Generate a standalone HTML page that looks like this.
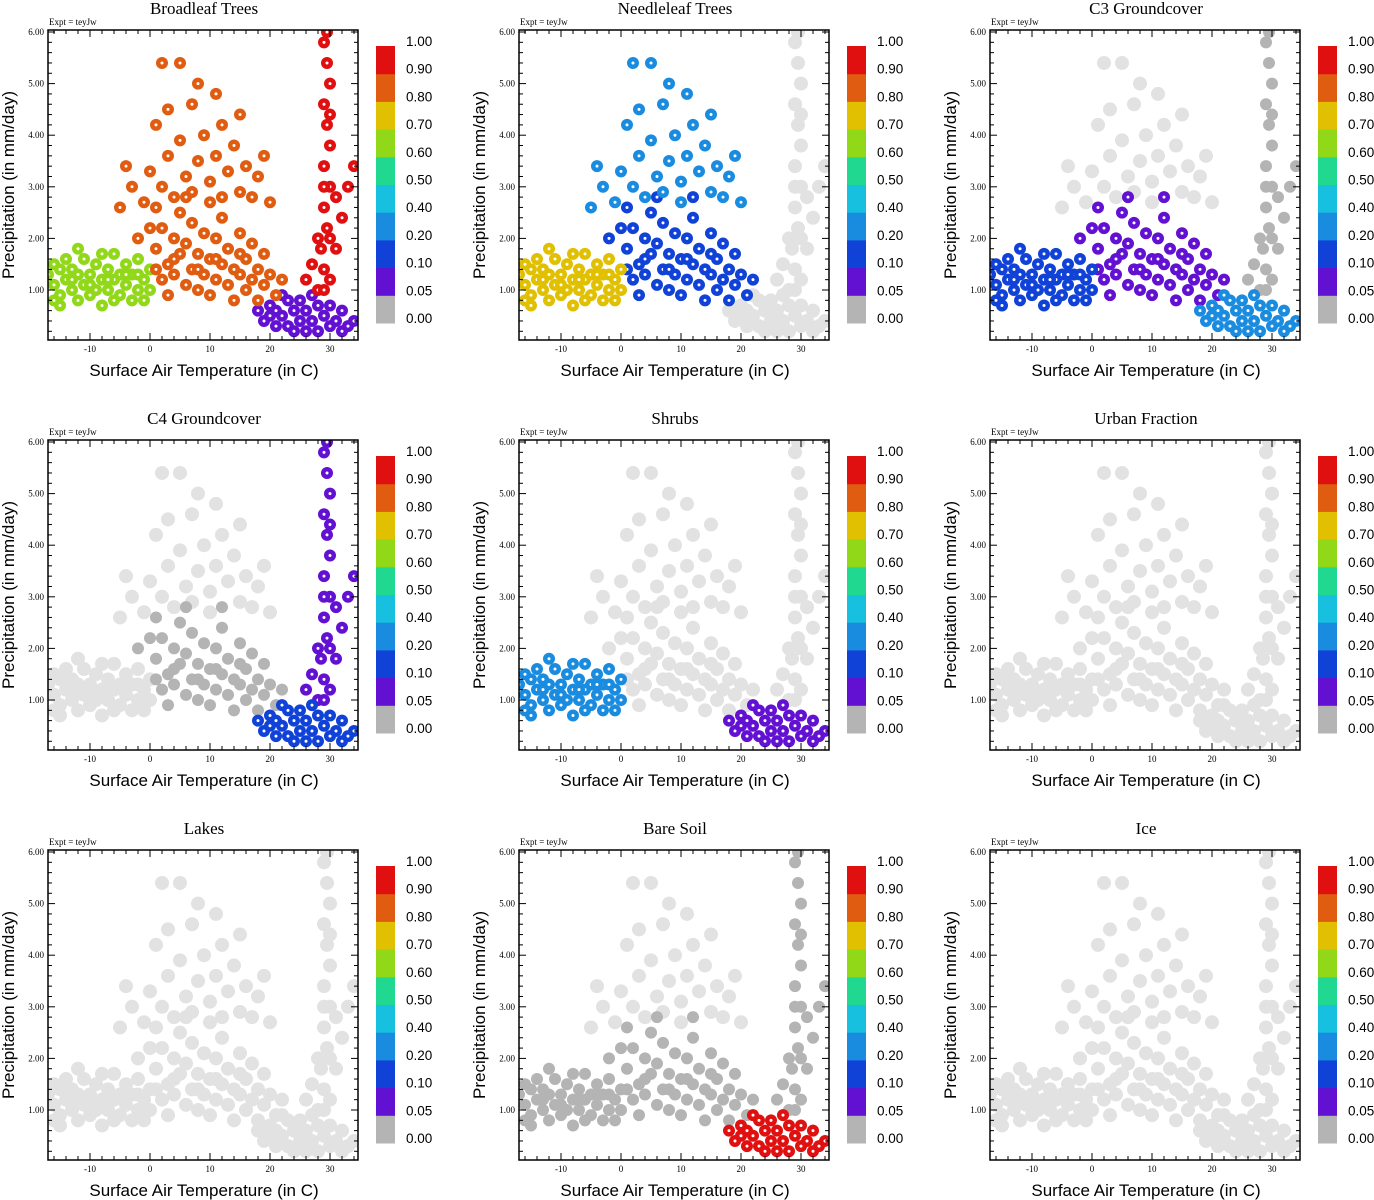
<!DOCTYPE html>
<html><head><meta charset="utf-8"><style>
body{margin:0;background:#fff;width:1374px;height:1200px;overflow:hidden}
svg{display:block}
</style></head><body>
<svg id="c" width="1374" height="1200" xmlns="http://www.w3.org/2000/svg"></svg>
<script>
const titles=["Broadleaf Trees","Needleleaf Trees","C3 Groundcover","C4 Groundcover","Shrubs","Urban Fraction","Lakes","Bare Soil","Ice"];
const xTicks=[-10,0,10,20,30];
const yTicks=[1,2,3,4,5,6];
const legendLabels=["0.00","0.05","0.10","0.20","0.40","0.50","0.60","0.70","0.80","0.90","1.00"];
const binEdges=[0,0.05,0.1,0.2,0.4,0.5,0.6,0.7,0.8,0.9,1.0];
const binColors=["#b4b4b4","#6210d2","#1042d8","#1a8ce0","#18c0e0","#20d890","#90d818","#e0c000","#e05c10","#e01010"];
// point clouds (T in C, P in mm/day)
const regionA=[[-17,1.3],[-16,1.5],[-16,1.1],[-15,1.4],[-15,0.9],[-14,1.2],[-14,1.6],[-13,1.0],[-13,1.4],[-12,0.8],[-12,1.3],[-11,1.1],[-11,1.6],[-10,0.9],[-10,1.3],[-9,1.5],[-9,1.0],[-8,1.2],[-8,0.7],[-7,1.4],[-7,1.0],[-6,1.2],[-6,1.7],[-5,0.9],[-5,1.3],[-4,1.1],[-4,1.5],[-3,0.8],[-3,1.3],[-2,1.0],[-2,1.6],[-1,1.2],[-1,0.8],[0,1.4],[0,1.0],[-15,0.7],[-12,1.8],[-8,1.7],[-16,0.8],[-6,0.8],[-13,1.2],[-10,1.1],[-7,1.2],[-4,1.3],[-2,1.3]];
const regionB=[[1,1.8],[2,1.2],[2,2.2],[3,1.5],[3,0.9],[4,2.0],[4,1.3],[5,1.7],[5,2.5],[6,1.1],[6,1.9],[7,1.4],[7,2.3],[8,1.0],[8,1.7],[9,2.1],[9,1.3],[10,1.6],[10,0.9],[11,2.0],[11,1.2],[12,1.5],[12,2.4],[13,1.1],[13,1.8],[14,1.4],[14,0.8],[15,2.1],[15,1.3],[16,1.6],[16,1.0],[17,1.9],[17,1.2],[18,1.4],[18,0.8],[19,1.1],[19,1.7],[20,1.3],[21,0.9],[22,1.2],[-2,2.0],[0,2.2],[1,2.6],[6,2.8],[12,2.8],[1,1.4],[4,1.6],[8,1.4],[11,1.6],[15,1.7]];
const regionE=[[-5,2.6],[-3,3.0],[-1,2.7],[0,3.3],[1,4.2],[2,3.0],[3,3.6],[3,4.5],[4,2.8],[5,5.4],[5,3.9],[6,3.2],[7,4.6],[7,2.9],[8,3.5],[8,5.0],[9,4.0],[10,3.1],[10,2.7],[11,3.6],[12,4.2],[13,3.3],[14,3.8],[15,2.9],[15,4.4],[16,3.4],[17,2.8],[18,3.2],[19,3.6],[20,2.7],[-4,3.4],[2,5.4],[11,4.8]];
const regionC=[[18,0.6],[19,0.4],[20,0.7],[21,0.3],[21,0.6],[22,0.5],[23,0.8],[23,0.3],[24,0.6],[25,0.4],[25,0.8],[26,0.2],[26,0.6],[27,0.4],[28,0.7],[28,0.2],[29,0.5],[30,0.3],[30,0.7],[31,0.4],[32,0.2],[32,0.6],[33,0.3],[34,0.4],[24,0.2],[27,0.9],[22,0.9],[20,0.5]];
const regionD=[[28,1.0],[29,1.4],[28.5,1.8],[29.5,2.2],[29,2.6],[30,3.0],[29,3.4],[30,3.8],[29.5,4.2],[29,4.6],[30,5.0],[29.5,5.4],[29,5.8],[29.5,6.0],[30,1.2],[28,2.0],[31,1.8],[32,2.4],[33,3.0],[34,3.4],[27,1.5],[26,1.2],[31,2.8],[29,1.0],[30,2.0],[29,3.0],[30,4.4]];
const regions=[regionA,regionB,regionE,regionC,regionD];
// fraction per region per panel (-1 = not present, drawn light gray)
const panelFrac=[
 [0.6,0.85,0.85,0.07,0.95],
 [0.75,0.15,0.3,-1,-1],
 [0.15,0.07,-1,0.3,0.02],
 [-1,0.02,-1,0.15,0.07],
 [0.3,-1,-1,0.07,-1],
 [-1,-1,-1,-1,-1],
 [-1,-1,-1,-1,-1],
 [0.02,0.02,-1,0.95,0.02],
 [-1,-1,-1,-1,-1]];
const NS="http://www.w3.org/2000/svg";
const svg=document.getElementById('c');
function mk(tag,attrs,parent,txt){const e=document.createElementNS(NS,tag);for(const k in attrs)e.setAttribute(k,attrs[k]);if(txt!==undefined)e.textContent=txt;(parent||svg).appendChild(e);return e;}
function colorOf(v){if(v<0)return "#e2e2e2";for(let i=binEdges.length-2;i>=0;i--){if(v>=binEdges[i]&&i>0)return binColors[i];}return binColors[0];}
titles.forEach((t,pi)=>{
 const ox=(pi%3)*471, oy=Math.floor(pi/3)*410;
 const L=ox+48,R=ox+358,T=oy+30,B=oy+340;
 const xs=v=>L+(v+17)*6, ys=v=>oy+290-(v-1)*51.6;
 const g=mk('g',{},svg);
 
 
 const tt=mk('text',{x:ox+204,y:oy+14,'text-anchor':'middle','font-family':'Liberation Serif, serif','font-size':17},g,t);
 
 const ex=mk('text',{x:L+1,y:oy+25,'font-family':'Liberation Serif, serif','font-size':9},g,'Expt = teyJw');
 
 const clip='cl'+pi;
 const cp=mk('clipPath',{id:clip},g);mk('rect',{x:L,y:T,width:R-L,height:B-T},cp);
 const pts=mk('g',{'clip-path':'url(#'+clip+')'},g);
 const order=[];
 regions.forEach((r,ri)=>{r.forEach(p=>order.push([p,panelFrac[pi][ri]]));});
 order.sort((a,b)=>a[1]-b[1]);
 order.forEach(([p,v])=>{
  const c=mk('circle',{cx:xs(p[0]),cy:ys(p[1]),r:v<0?7:6,fill:colorOf(v)},pts);
  
  if(v>=0.05){mk('circle',{cx:xs(p[0]),cy:ys(p[1]),r:1.5,fill:'#fff'},pts);}
 });
 mk('rect',{x:L,y:T,width:R-L,height:B-T,fill:'none',stroke:'#000','stroke-width':1.5},g);
 for(let v=-16;v<=34;v+=2){const x=xs(v),l=v%10===0?7:4;mk('line',{x1:x,x2:x,y1:B,y2:B-l,stroke:'#000'},g);mk('line',{x1:x,x2:x,y1:T,y2:T+l,stroke:'#000'},g);}
 for(let v=0.2;v<=6.01;v+=0.2){const y=ys(v),l=Math.abs(v-Math.round(v))<0.01?7:4;mk('line',{x1:L,x2:L+l,y1:y,y2:y,stroke:'#000'},g);mk('line',{x1:R,x2:R-l,y1:y,y2:y,stroke:'#000'},g);}
 xTicks.forEach(v=>{const e=mk('text',{x:xs(v),y:B+12,'text-anchor':'middle','font-family':'Liberation Serif, serif','font-size':9},g,String(v));});
 yTicks.forEach(v=>{const e=mk('text',{x:L-4,y:ys(v)+3,'text-anchor':'end','font-family':'Liberation Serif, serif','font-size':9},g,v.toFixed(2));});
 const xl=mk('text',{x:ox+204,y:oy+376,'text-anchor':'middle','font-family':'Liberation Sans, sans-serif','font-size':17},g,'Surface Air Temperature (in C)');
 
 const yl=mk('text',{transform:'translate('+(ox+14)+','+(oy+185)+') rotate(-90)','text-anchor':'middle','font-family':'Liberation Sans, sans-serif','font-size':17},g,'Precipitation (in mm/day)');
 
 const cb=mk('g',{},g);
 const bh=27.7;
 binColors.forEach((c,i)=>{mk('rect',{x:ox+376,y:oy+323-(i+1)*bh,width:19,height:bh+0.5,fill:c},cb);});
 legendLabels.forEach((l,i)=>{const e=mk('text',{x:ox+406,y:oy+323-i*bh,'font-family':'Liberation Sans, sans-serif','font-size':13.5},cb,l);});
});
</script>
</body></html>
